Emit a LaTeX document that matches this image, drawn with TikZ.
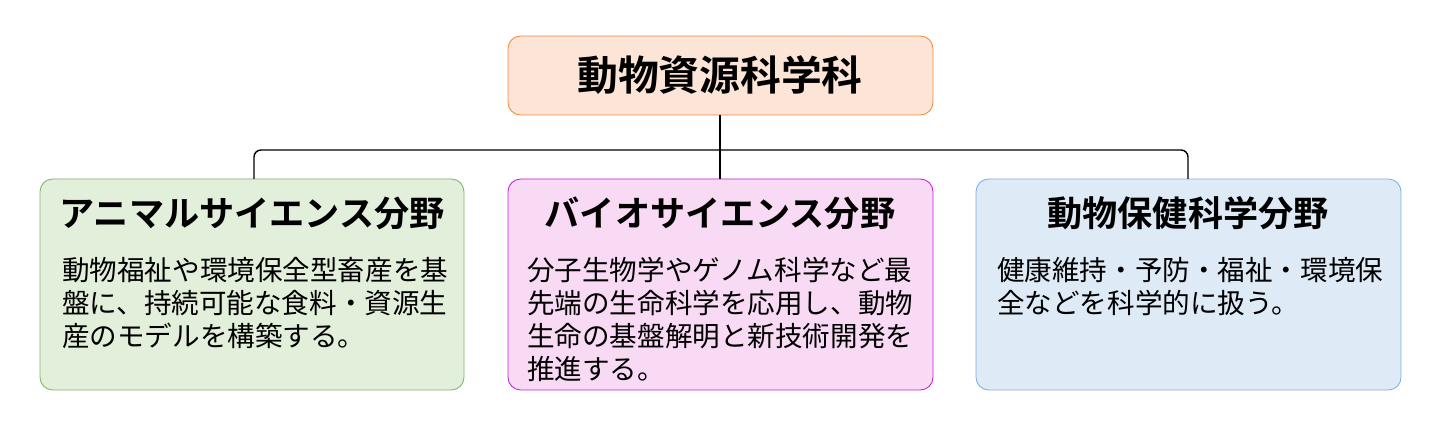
\documentclass[tikz,border=0pt]{standalone}
\usepackage{fontspec}
\newfontfamily\jp{Noto Sans CJK JP}
\newfontfamily\jpb{Noto Sans CJK JP Bold}
\begin{document}
\begin{tikzpicture}[x=0.025cm,y=-0.025cm,
  box/.style={draw,rounded corners=9pt,line width=0.6pt},
  head/.style={font=\jpb\fontsize{25}{29}\selectfont,anchor=center},
  body/.style={font=\jp\fontsize{19.6}{23.5}\selectfont,anchor=north west,align=left,inner sep=0pt},
  conn/.style={line width=1pt,black}]
\definecolor{pe}{HTML}{FCE4D6}\definecolor{peb}{HTML}{F08A3C}
\definecolor{gr}{HTML}{E2EFDA}\definecolor{grb}{HTML}{82B366}
\definecolor{pk}{HTML}{F8DAF4}\definecolor{pkb}{HTML}{C020D0}
\definecolor{bl}{HTML}{DEEAF6}\definecolor{blb}{HTML}{7EAEE0}
\useasboundingbox (0,0) rectangle (1440,425);
\draw[box,fill=pe,draw=peb] (508,36) rectangle (933,115);
\node[font=\jpb\fontsize{29}{33}\selectfont] (top) at (720,75) {動物資源科学科};
\draw[box,fill=gr,draw=grb] (40,179) rectangle (464,390);
\draw[box,fill=pk,draw=pkb] (508,179) rectangle (933,390);
\draw[box,fill=bl,draw=blb] (976,179) rectangle (1401,390);
\coordinate (tb) at (720,115);
\coordinate (ga) at (254,179);\coordinate (pa) at (720,179);\coordinate (ba) at (1188,179);
\draw[conn,rounded corners=5pt] (ga) -- (254,150) -- (1188,150) -- (ba);
\draw[conn] (tb) -- (pa);
\node[head] (h1) at (252,213) {アニマルサイエンス分野};
\node[head] (h2) at (720,213) {バイオサイエンス分野};
\node[head] (h3) at (1188,213) {動物保健科学分野};
\node[body] (b1) at (62,257) {動物福祉や環境保全型畜産を基\\盤に、持続可能な食料・資源生\\産のモデルを構築する。};
\node[body] (b2) at (527,257) {分子生物学やゲノム科学など最\\先端の生命科学を応用し、動物\\生命の基盤解明と新技術開発を\\推進する。};
\node[body] (b3) at (997,257) {健康維持・予防・福祉・環境保\\全などを科学的に扱う。};
\end{tikzpicture}
\end{document}
